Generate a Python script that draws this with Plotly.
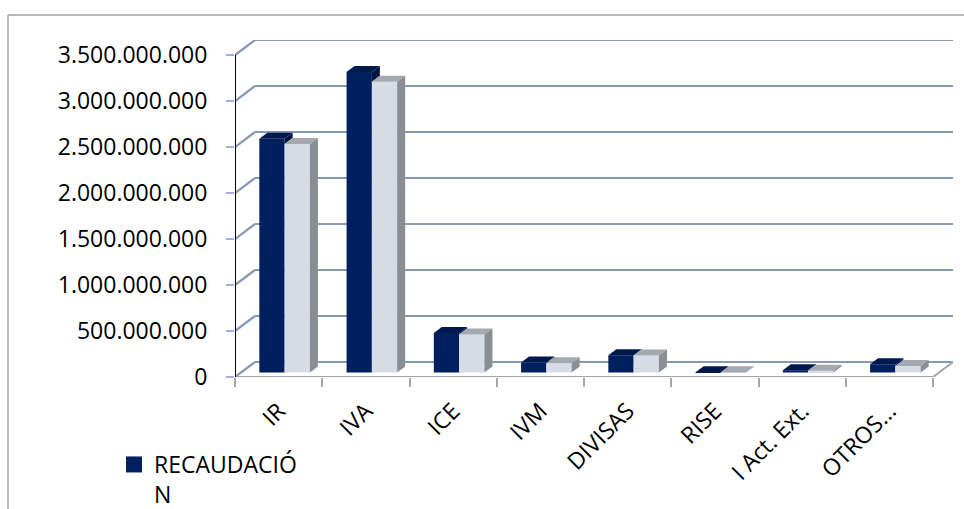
import plotly.graph_objects as go

# ---- data -------------------------------------------------------------
categorias = ["IR", "IVA", "ICE", "IVM", "DIVISAS", "RISE", "I Act. Ext.", "OTROS..."]
recaudacion = [2540e6, 3265e6, 430e6, 108e6, 188e6, 4e6, 25e6, 90e6]
serie_2 = [2485e6, 3160e6, 412e6, 100e6, 185e6, 2e6, 18e6, 70e6]
y_ticks = [0, 500e6, 1000e6, 1500e6, 2000e6, 2500e6, 3000e6, 3500e6]

# ---- colours ----------------------------------------------------------
NAVY_FRONT, NAVY_TOP, NAVY_SIDE = "#001F5F", "#00184E", "#001444"
GREY_FRONT, GREY_TOP, GREY_SIDE = "#D5DCE6", "#A4A8AF", "#8A8D94"
GRID = "#879AB5"
FLOOR = "#A6A6A6"
FONT = "Open Sans"

# ---- geometry of the pseudo-3D box (pixels) ---------------------------
W, H = 964, 509
LEFT, FRONT_BOTTOM = 235, 377          # front plane origin
FRONT_W, FRONT_H = 698, 322            # front plane size
DEPTH_DX, DEPTH_DY = 20, 15            # wall depth offset
BAR_PLANE = 0.30                       # depth fraction where bar fronts sit
BAR_DEPTH = 0.40                       # bar depth as fraction of wall depth
BAR_W_PX = 25.3

n = len(categorias)
y_max = y_ticks[-1]
px_x = FRONT_W / n                     # pixels per category
px_y = FRONT_H / y_max                 # pixels per unit

PLOT_W, PLOT_H = FRONT_W + DEPTH_DX, FRONT_H + DEPTH_DY
x_range = [-0.5, -0.5 + PLOT_W / px_x]
y_range = [0, PLOT_H / px_y]

def dx(p):
    return p / px_x

def dy(p):
    return p / px_y

wall_dx, wall_dy = dx(DEPTH_DX), dy(DEPTH_DY)
shift_x, shift_y = dx(DEPTH_DX * BAR_PLANE), dy(DEPTH_DY * BAR_PLANE)
bar_dx, bar_dy = dx(DEPTH_DX * BAR_DEPTH), dy(DEPTH_DY * BAR_DEPTH)
bar_w = dx(BAR_W_PX)

def path(points):
    return "M " + " L ".join(f"{x:.6f},{y:.3f}" for x, y in points) + " Z"

shapes = []

# back wall gridlines and their side-wall diagonals
for v in y_ticks:
    shapes.append(dict(type="line", layer="below", x0=-0.5, y0=v,
                       x1=-0.5 + wall_dx, y1=v + wall_dy,
                       line=dict(color=GRID, width=2.2)))
    shapes.append(dict(type="line", layer="below", x0=-0.5 + wall_dx, y0=v + wall_dy,
                       x1=n - 0.5 + wall_dx, y1=v + wall_dy,
                       line=dict(color=GRID, width=2.2)))

# floor front and right edges
shapes.append(dict(type="line", layer="above", x0=-0.5, y0=0, x1=n - 0.5, y1=0,
                   line=dict(color=FLOOR, width=2)))
shapes.append(dict(type="line", layer="above", x0=n - 0.5, y0=0,
                   x1=n - 0.5 + wall_dx, y1=wall_dy,
                   line=dict(color=FLOOR, width=2)))
# value axis line
shapes.append(dict(type="line", layer="above", x0=-0.5, y0=0, x1=-0.5, y1=y_max,
                   line=dict(color="black", width=2)))

# top and side faces of the columns
for i in range(n):
    base = shift_y
    # navy column
    xl = i + shift_x - bar_w
    xr = i + shift_x
    top = base + recaudacion[i]
    shapes.append(dict(type="path", layer="above", line=dict(width=0),
                       fillcolor=NAVY_TOP,
                       path=path([(xl, top), (xr, top), (xr + bar_dx, top + bar_dy),
                                  (xl + bar_dx, top + bar_dy)])))
    top_g = base + serie_2[i]
    if top > top_g:
        shapes.append(dict(type="path", layer="above", line=dict(width=0),
                           fillcolor=NAVY_SIDE,
                           path=path([(xr, top_g), (xr, top), (xr + bar_dx, top + bar_dy),
                                      (xr + bar_dx, top_g + bar_dy)])))
    # grey column
    xl2, xr2 = xr, xr + bar_w
    shapes.append(dict(type="path", layer="above", line=dict(width=0),
                       fillcolor=GREY_TOP,
                       path=path([(xl2, top_g), (xr2, top_g), (xr2 + bar_dx, top_g + bar_dy),
                                  (xl2 + bar_dx, top_g + bar_dy)])))
    shapes.append(dict(type="path", layer="above", line=dict(width=0),
                       fillcolor=GREY_SIDE,
                       path=path([(xr2, base), (xr2, top_g), (xr2 + bar_dx, top_g + bar_dy),
                                  (xr2 + bar_dx, base + bar_dy)])))

# outer chart frame (paper coordinates)
def px2paper_x(p):
    return (p - LEFT) / PLOT_W

def px2paper_y(p):
    return (FRONT_BOTTOM - p) / PLOT_H

shapes.append(dict(type="line", xref="paper", yref="paper",
                   x0=px2paper_x(8), y0=px2paper_y(15), x1=px2paper_x(W + 5), y1=px2paper_y(15),
                   line=dict(color="#A0A0A0", width=1.5)))
shapes.append(dict(type="line", xref="paper", yref="paper",
                   x0=px2paper_x(8), y0=px2paper_y(15), x1=px2paper_x(8), y1=px2paper_y(H + 5),
                   line=dict(color="#A0A0A0", width=1.5)))

fig = go.Figure()
fig.add_trace(go.Bar(
    x=categorias, y=recaudacion, base=[shift_y] * n,
    offset=shift_x - bar_w, width=bar_w,
    marker=dict(color=NAVY_FRONT, line=dict(width=0)),
    name="RECAUDACIÓ<br>N", showlegend=False,
))
fig.add_trace(go.Bar(
    x=categorias, y=serie_2, base=[shift_y] * n,
    offset=shift_x, width=bar_w,
    marker=dict(color=GREY_FRONT, line=dict(width=0)),
    name="Serie 2", showlegend=False,
))
# legend key for the navy series
fig.add_trace(go.Scatter(
    x=[None], y=[None], mode="markers",
    marker=dict(symbol="square", size=16, color=NAVY_FRONT),
    name="RECAUDACIÓ<br>N", showlegend=True,
))

fig.update_layout(
    width=W, height=H,
    margin=dict(l=LEFT, r=W - LEFT - PLOT_W, t=FRONT_BOTTOM - PLOT_H, b=H - FRONT_BOTTOM,
                autoexpand=False),
    paper_bgcolor="white", plot_bgcolor="white",
    barmode="overlay",
    separators=",.",
    font=dict(family=FONT, size=22, color="black"),
    shapes=shapes,
    showlegend=True,
    legend=dict(x=px2paper_x(114), y=px2paper_y(443), xanchor="left", yanchor="top",
                font=dict(family=FONT, size=23, color="black"),
                bgcolor="rgba(0,0,0,0)", valign="top", tracegroupgap=0),
    xaxis=dict(type="category", range=x_range, tickson="boundaries", automargin=False,
               ticks="outside", ticklen=9, tickwidth=2, tickcolor=FLOOR,
               tickangle=-45, ticklabelstandoff=15,
               showgrid=False, showline=False, zeroline=False,
               tickfont=dict(family=FONT, size=23, color="black")),
    yaxis=dict(range=y_range, tickvals=y_ticks, tickformat=",d", automargin=False,
               ticks="outside", ticklen=8, tickwidth=1.5, tickcolor="#A8A8F0",
               ticklabelstandoff=14,
               showgrid=False, showline=False, zeroline=False,
               tickfont=dict(family=FONT, size=23, color="black")),
)

fig.write_html("out.html")
